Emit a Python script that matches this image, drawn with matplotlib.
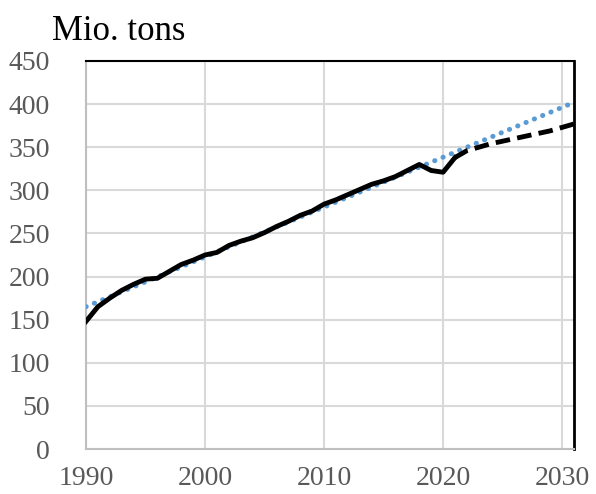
import matplotlib.pyplot as plt

# historical series (solid) and projection (dashed)
years = list(range(1990, 2022))
tons = [148, 165, 175, 184, 191, 197, 198, 206, 214, 219,
        225, 228, 236, 241, 245, 251, 258, 264, 271, 276,
        284, 289, 295, 301, 307, 311, 316, 323, 330, 323,
        321, 338]
proj_years = list(range(2021, 2032))
proj_tons = [338, 346, 350, 354, 357, 360, 363, 366, 369, 373, 377]
# linear trend endpoints
trend_years = [1990, 2031]
trend_tons = [165, 402]

xticks = [1990, 2000, 2010, 2020, 2030]
yticks = list(range(0, 451, 50))

plt.rcParams['font.family'] = ['Liberation Serif', 'DejaVu Serif']

fig = plt.figure(figsize=(5.96, 4.94), dpi=100)
ax = fig.add_axes([86/596, 1-449/494, (574-86)/596, (449-61)/494])

ax.plot(trend_years, trend_tons, color='#5b9bd5', lw=3.6, linestyle=(0, (0.05, 1.75)),
        dash_capstyle='round', zorder=3)
ax.plot(years, tons, color='black', lw=3.5, solid_joinstyle='round', zorder=4)
ax.plot(proj_years, proj_tons, color='black', lw=3.5, linestyle=(0, (3, 1.5)), zorder=4)

ax.set_xlim(1990, 2031)
ax.set_ylim(0, 450)
ax.set_xticks(xticks)
ax.set_yticks(yticks)
ax.grid(True, color='#d9d9d9', lw=1.5)
ax.set_axisbelow(True)
ax.tick_params(length=0, labelsize=20, labelcolor='#595959')
ax.tick_params(axis='y', pad=26)
ax.tick_params(axis='x', pad=12)

ax.spines['left'].set_color('#bfbfbf')
ax.spines['bottom'].set_color('#bfbfbf')
ax.spines['left'].set_linewidth(1.5)
ax.spines['bottom'].set_linewidth(1.5)
ax.spines['top'].set_color('black')
ax.spines['top'].set_linewidth(1.5)
ax.spines['right'].set_color('black')
ax.spines['right'].set_linewidth(2)

fig.text(52/596, 1-40/494, 'Mio. tons', fontsize=25, color='black', va='baseline')

fig.savefig('out.png', dpi=100)
